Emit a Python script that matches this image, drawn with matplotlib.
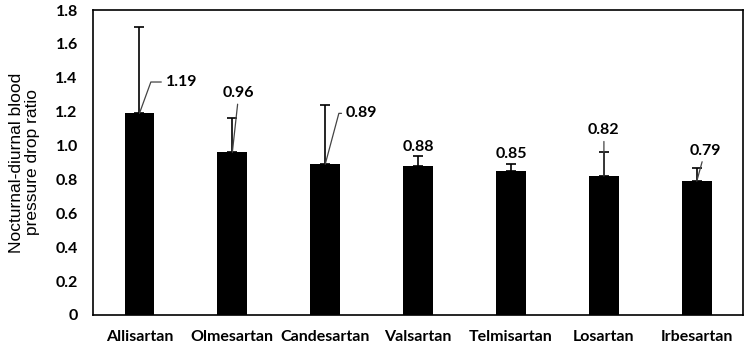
import matplotlib.pyplot as plt
import numpy as np

# data
drugs = ["Allisartan", "Olmesartan", "Candesartan", "Valsartan",
         "Telmisartan", "Losartan", "Irbesartan"]
ratio = [1.19, 0.96, 0.89, 0.88, 0.85, 0.82, 0.79]
err_top = [1.70, 1.16, 1.24, 0.94, 0.89, 0.96, 0.87]
yticks = [0, 0.2, 0.4, 0.6, 0.8, 1.0, 1.2, 1.4, 1.6, 1.8]
ytick_labels = ["0", "0.2", "0.4", "0.6", "0.8", "1.0", "1.2", "1.4", "1.6", "1.8"]

# label placement (x offset from bar, y of text, horizontal alignment, leader style)
label_pos = [
    (0.28, 1.375, "left", "angle,angleA=0,angleB=70,rad=0"),
    (0.07, 1.31, "center", "arc3"),
    (0.22, 1.19, "left", "angle,angleA=0,angleB=75,rad=0"),
    (0.0, 0.99, "center", None),
    (0.0, 0.95, "center", None),
    (0.0, 1.09, "center", "arc3"),
    (0.09, 0.97, "center", "arc3"),
]

fig = plt.figure(figsize=(7.5, 3.45), dpi=100)
ax = fig.add_axes([0.124, 0.087, 0.867, 0.884])

x = np.arange(len(drugs))
yerr = [np.zeros(len(ratio)), np.array(err_top) - np.array(ratio)]
ax.bar(x, ratio, width=0.32, color="black", zorder=2)
ax.errorbar(x, ratio, yerr=yerr, fmt="none", ecolor="black", elinewidth=1.2,
            capsize=3.5, capthick=1.2, zorder=3)

bold = dict(family="Lato", fontweight="bold", fontsize=11.5)
for i, (v, (dx, ty, ha, conn)) in enumerate(zip(ratio, label_pos)):
    if conn is None:
        ax.text(i + dx, ty, f"{v:.2f}", ha=ha, va="center", zorder=4, **bold)
    else:
        ax.annotate(f"{v:.2f}", xy=(i, v), xytext=(i + dx, ty), ha=ha, va="center",
                    arrowprops=dict(arrowstyle="-", color="#444444", lw=0.9,
                                    shrinkA=1, shrinkB=0, connectionstyle=conn),
                    zorder=4, **bold)

ax.set_xlim(-0.5, len(drugs) - 0.5)
ax.set_ylim(0, 1.8)
ax.set_yticks(yticks)
ax.set_yticklabels(ytick_labels, **bold)
ax.set_xticks(x)
ax.set_xticklabels(drugs, **bold)
ax.tick_params(axis="x", length=0, pad=11)
ax.tick_params(axis="y", length=0, pad=11)
for s in ax.spines.values():
    s.set_linewidth(1.2)

ax.set_ylabel("Nocturnal-diurnal blood\npressure drop ratio", family="Liberation Sans",
              fontsize=12.5, labelpad=11, linespacing=1.05)

fig.savefig("out.png", dpi=100, facecolor="white")
